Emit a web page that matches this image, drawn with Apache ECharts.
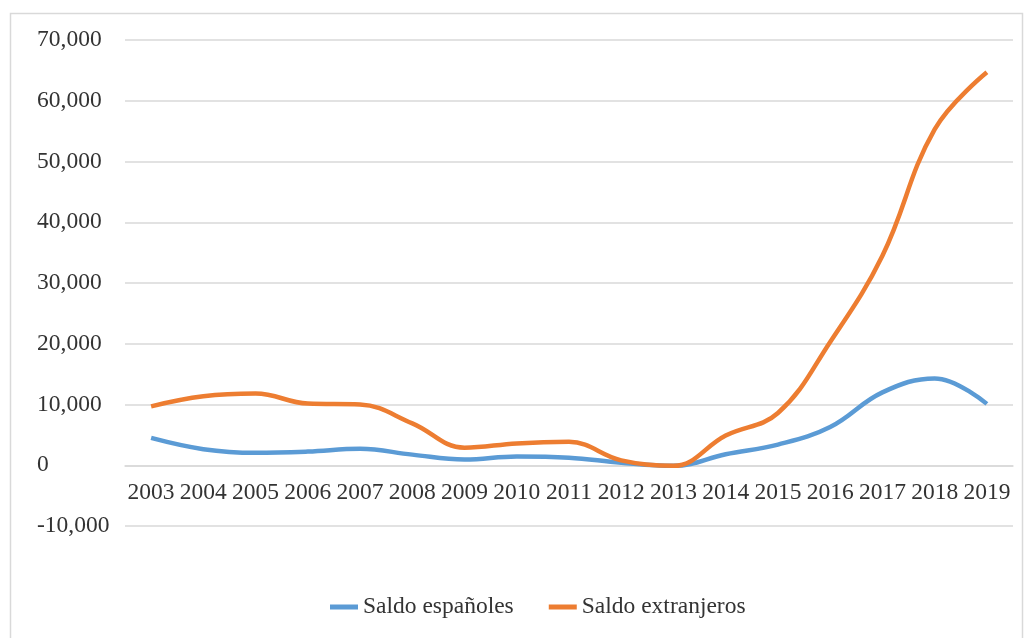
<!DOCTYPE html>
<html>
<head>
<meta charset="utf-8">
<script src="https://cdn.jsdelivr.net/npm/echarts@6/dist/echarts.min.js"></script>
<style>html,body{margin:0;padding:0;background:#fff}#c{width:1032px;height:638px}</style>
</head>
<body>
<div id="c"></div>
<script>
const years = ['2003','2004','2005','2006','2007','2008','2009','2010','2011','2012','2013','2014','2015','2016','2017','2018','2019'];
const saldoEspanoles = [4500, 2650, 2050, 2250, 2700, 1750, 950, 1450, 1250, 400, -100, 1800, 3400, 6300, 12000, 14300, 10100];
const saldoExtranjeros = [9700, 11350, 11800, 10150, 10000, 6900, 2900, 3600, 3850, 800, -100, 4900, 8600, 20300, 34500, 55300, 64700];
const yTicks = { min: -10000, max: 70000, interval: 10000 };

const gridTop = 40, gridBottom = 112, H = 638;
const gridH = H - gridTop - gridBottom;
const zeroOffset = -(0 - yTicks.min) / (yTicks.max - yTicks.min) * gridH;

const chart = echarts.init(document.getElementById('c'), null, {renderer: 'canvas'});
const font = '"Liberation Serif", "Times New Roman", serif';
chart.setOption({
  animation: false,
  backgroundColor: '#ffffff',
  textStyle: { fontFamily: font },
  graphic: [{
    type: 'rect', shape: { x: 10.5, y: 13.5, width: 1012, height: 660 },
    style: { fill: 'none', stroke: '#d9d9d9', lineWidth: 1.5 }, silent: true
  }],
  grid: { left: 125, right: 19, top: gridTop, bottom: gridBottom },
  legend: {
    bottom: 14, left: 325, icon: 'rect', itemWidth: 28, itemHeight: 5, itemGap: 35,
    textStyle: { fontFamily: font, fontSize: 23.5, color: '#333333' },
    data: ['Saldo españoles', 'Saldo extranjeros']
  },
  xAxis: {
    type: 'category', data: years, boundaryGap: true,
    offset: zeroOffset,
    axisLine: { onZero: false, lineStyle: { color: '#d9d9d9', width: 1.5 } },
    axisTick: { show: false },
    axisLabel: { fontFamily: font, fontSize: 23.5, color: '#333333', margin: 16, interval: 0 }
  },
  yAxis: {
    type: 'value', min: yTicks.min, max: yTicks.max, interval: yTicks.interval,
    axisLine: { show: false }, axisTick: { show: false },
    splitLine: { lineStyle: { color: '#d9d9d9', width: 1.5 } },
    axisLabel: {
      fontFamily: font, fontSize: 23.5, color: '#333333', align: 'left', margin: 88,
      formatter: v => v.toLocaleString('en-US')
    }
  },
  series: [
    { name: 'Saldo españoles', type: 'line', data: saldoEspanoles, smooth: 0.4, showSymbol: false,
      lineStyle: { color: '#5b9bd5', width: 4.5 }, itemStyle: { color: '#5b9bd5' } },
    { name: 'Saldo extranjeros', type: 'line', data: saldoExtranjeros, smooth: 0.4, showSymbol: false,
      lineStyle: { color: '#ed7d31', width: 4.5 }, itemStyle: { color: '#ed7d31' } }
  ]
});
</script>
</body>
</html>
